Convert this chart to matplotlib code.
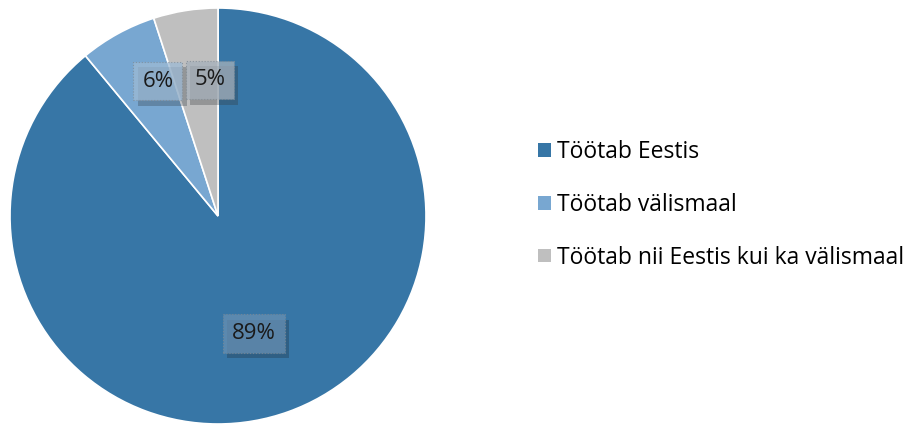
import numpy as np
import matplotlib.pyplot as plt
from matplotlib import patheffects

plt.rcParams['font.family'] = ['Open Sans', 'DejaVu Sans']

categories = ['Töötab Eestis', 'Töötab välismaal', 'Töötab nii Eestis kui ka välismaal']
shares = [89, 6, 5]
colors = ['#3776A6', '#78A7D1', '#BFBFBF']

fig = plt.figure(figsize=(9.15, 4.25), dpi=100)
R = 208
cx, cy = 218, 425 - 216
ax = fig.add_axes([(cx - R) / 915, (cy - R) / 425, 2 * R / 915, 2 * R / 425])

wedges, _ = ax.pie(shares, colors=colors, startangle=90, counterclock=False,
                   radius=1, wedgeprops=dict(edgecolor='white', linewidth=1.2))
ax.set_xlim(-1, 1)
ax.set_ylim(-1, 1)
ax.set_aspect('equal')
ax.axis('off')

# label placement: radius fraction and angle nudge per slice
label_r = [0.59, 0.71, 0.655]
label_da = [-2.8, -4.8, -5.6]
box_fc = ['#6890B3', '#9DBAD5', '#A6B1BB']
for w, v, r, da, fc in zip(wedges, shares, label_r, label_da, box_fc):
    ang = np.deg2rad((w.theta1 + w.theta2) / 2 + da)
    t = ax.text(r * np.cos(ang), r * np.sin(ang), f'{v}%', ha='center', va='center',
                fontsize=16, color='#1a1a1a',
                bbox=dict(boxstyle='square,pad=0.4', facecolor=fc, alpha=0.75,
                          edgecolor='#7f8a94', linestyle=':', linewidth=0.8))
    t.get_bbox_patch().set_path_effects([
        patheffects.SimplePatchShadow(offset=(3, -4), alpha=0.3), patheffects.Normal()])

leg = fig.legend(wedges, categories, loc='center left', bbox_to_anchor=(538 / 915, 1 - 205 / 425),
                 frameon=False, fontsize=16.5, handlelength=0.55, handleheight=0.55,
                 handletextpad=0.3, labelspacing=1.25, borderaxespad=0, borderpad=0)
for h in leg.legend_handles:
    h.set_edgecolor('none')

fig.savefig('out.png', dpi=100)
